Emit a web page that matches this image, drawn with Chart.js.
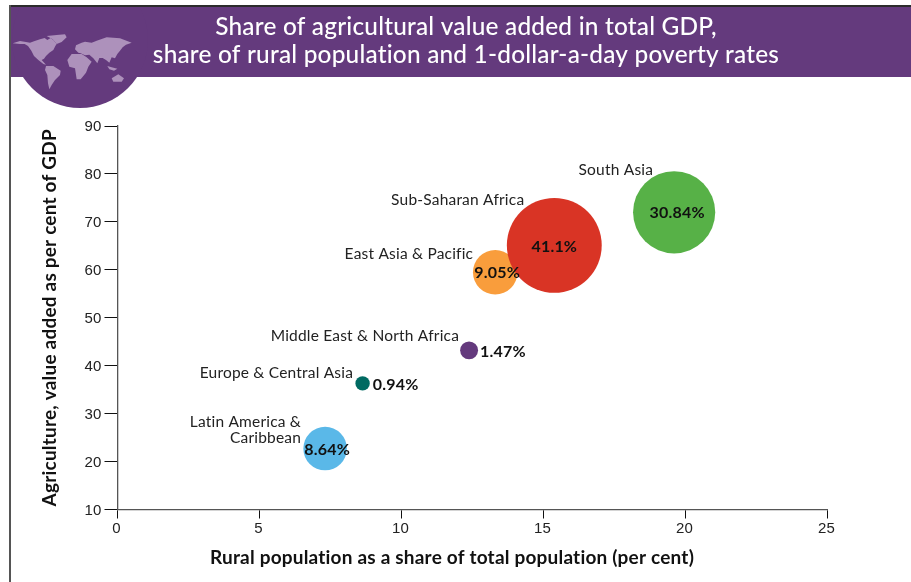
<!DOCTYPE html>
<html>
<head>
<meta charset="utf-8">
<style>html,body{margin:0;padding:0;background:#fff;overflow:hidden}canvas{display:block}</style>
<script src="https://cdn.jsdelivr.net/npm/chart.js@4"></script>
</head>
<body>
<canvas id="c" width="911" height="582"></canvas>
<script>
const regions = ["Latin America &\nCaribbean", "Europe & Central Asia", "Middle East & North Africa", "East Asia & Pacific", "Sub-Saharan Africa", "South Asia"];
const ruralShare = [7.31, 8.63, 12.38, 13.3, 15.38, 19.6];
const agriShare = [22.7, 36.3, 43.2, 59.5, 65.1, 72];
const povertyRate = [8.64, 0.94, 1.47, 9.05, 41.1, 30.84];
const povertyLabels = ["8.64%", "0.94%", "1.47%", "9.05%", "41.1%", "30.84%"];
const colors = ["#5ab8e8", "#006a62", "#643a7d", "#f99d3c", "#d93425", "#57b147"];
const titleLines = ["Share of agricultural value added in total GDP,", "share of rural population and 1-dollar-a-day poverty rates"];
const xTicks = [0, 5, 10, 15, 20, 25];
const yTicks = [10, 20, 30, 40, 50, 60, 70, 80, 90];

const FONT = "Lato, 'Open Sans', sans-serif";
const PURPLE = "#643a7d";
const nameOffsets = [[-24, -27], [-9.5, -10], [-10, -14], [-22, -18], [-30, -45], [-21, -42]];
const pctOffsets = [2, 0, -1, 2, 0, 3];
const mapShapes = [
 [[8,40],[30,33],[48,36],[60,38],[72,34],[90,28],[104,24],[112,30],[122,24],[130,30],[140,42],[136,48],[130,60],[118,68],[108,78],[102,86],[95,90],[108,104],[100,102],[85,90],[72,78],[64,62],[54,48],[44,42],[30,42]],
 [[110,18],[140,15],[165,13],[170,22],[155,36],[140,42],[128,28]],
 [[108,108],[130,108],[152,122],[150,135],[135,150],[125,165],[118,178],[114,160],[112,135],[105,120]],
 [[195,58],[198,46],[215,38],[225,35],[245,38],[260,32],[290,22],[330,25],[365,38],[348,44],[338,52],[330,62],[322,72],[315,85],[305,82],[298,98],[288,90],[278,84],[268,84],[262,100],[250,85],[238,74],[225,76],[212,70],[205,68]],
 [[172,90],[185,72],[215,72],[230,82],[245,95],[235,110],[228,128],[212,148],[200,148],[195,115],[178,110]],
 [[305,145],[325,133],[342,145],[335,155],[310,155]],
 [[292,108],[305,112],[322,116],[312,122],[298,118]]
];

const decor = {
  id: "decor",
  afterLayout(chart) {
    chart.titleBlock.left = 21;
    chart.titleBlock.right = 911;
  },
  beforeDraw(chart) {
    const g = chart.ctx;
    g.save();
    g.fillStyle = "#fff"; g.fillRect(0, 0, 911, 582);
    g.fillStyle = PURPLE;
    g.fillRect(10, 6, 901, 71);
    g.beginPath(); g.rect(0, 6, 911, 120); g.clip();
    g.beginPath(); g.arc(80, 40, 68, 0, Math.PI * 2); g.fill();
    g.fillStyle = "#ad91bb";
    mapShapes.forEach(s => {
      g.beginPath();
      s.forEach((p, i) => { const x = 10 + p[0] / 3, y = 30 + p[1] / 3; i ? g.lineTo(x, y) : g.moveTo(x, y); });
      g.closePath(); g.fill();
    });
    g.restore();
    g.fillStyle = "#2c2c2c"; g.fillRect(9, 5, 902, 2);
    g.fillStyle = "#555"; g.fillRect(9, 5, 2, 577);
    g.letterSpacing = "0.2px";
  }
};

const annotate = {
  id: "annotate",
  afterDatasetsDraw(chart) {
    const g = chart.ctx;
    const pts = chart.getDatasetMeta(0).data;
    g.save();
    g.textBaseline = "middle";
    pts.forEach((pt, i) => {
      g.fillStyle = "#222";
      g.font = "15.5px " + FONT;
      g.textAlign = "right";
      regions[i].split("\n").forEach((ln, k) => {
        g.fillText(ln, pt.x + nameOffsets[i][0], pt.y + nameOffsets[i][1] + k * 16);
      });
      g.fillStyle = "#111";
      g.font = "bold 16px " + FONT;
      const small = pt.options.radius < 12;
      g.textAlign = small ? "left" : "center";
      g.fillText(povertyLabels[i], (small ? pt.x + pt.options.radius + 3 : pt.x) + pctOffsets[i], pt.y + 1);
    });
    const t = chart.options.scales.x.title;
    g.fillStyle = "#111";
    g.font = "bold 19px " + FONT;
    g.textAlign = "center";
    g.fillText(t.text, 452, 558);
    g.restore();
  }
};

new Chart(document.getElementById("c"), {
  type: "bubble",
  data: {
    datasets: [{
      label: "Poverty rate",
      data: ruralShare.map((x, i) => ({ x, y: agriShare[i], v: povertyRate[i] })),
      backgroundColor: colors,
      borderWidth: 0,
      hoverBorderWidth: 0,
      radius: c => Math.sqrt(c.raw.v) * 7.4,
      clip: false
    }]
  },
  plugins: [decor, annotate],
  options: {
    responsive: false,
    animation: false,
    layout: { padding: { left: 22, right: 83.5, top: 0, bottom: 0 } },
    plugins: {
      legend: { display: false },
      tooltip: { enabled: false },
      title: {
        display: true,
        text: titleLines,
        color: "#fff",
        font: { family: FONT, size: 24.4, weight: "500", lineHeight: 28 / 24.4 },
        padding: { top: 13, bottom: 57 }
      }
    },
    scales: {
      x: {
        type: "linear", min: 0, max: 25,
        afterBuildTicks: s => { s.ticks = xTicks.map(value => ({ value })); },
        afterFit: s => { s.height = 72.5; },
        grid: { drawOnChartArea: false, tickLength: 9, tickColor: "#111", tickWidth: 1 },
        border: { color: "#555", width: 1.3 },
        ticks: { color: "#222", font: { family: "'Liberation Sans', Arial", size: 15 }, padding: 1, maxRotation: 0, autoSkip: false, labelOffset: -1 },
        title: { display: false, text: "Rural population as a share of total population (per cent)" }
      },
      y: {
        type: "linear", min: 10, max: 90,
        afterBuildTicks: s => { s.ticks = yTicks.map(value => ({ value })); },
        afterFit: s => { s.width = 95.5; },
        grid: { drawOnChartArea: false, tickLength: 13, tickColor: "#111", tickWidth: 1 },
        border: { color: "#555", width: 1.3 },
        ticks: { color: "#222", font: { family: "'Liberation Sans', Arial", size: 15 }, padding: 3, labelOffset: 1, autoSkip: false },
        title: {
          display: true,
          text: "Agriculture, value added as per cent of GDP",
          color: "#111",
          font: { family: FONT, size: 19, weight: "bold", lineHeight: 20 / 19 },
          padding: { top: 18, bottom: 0 }
        }
      }
    }
  }
});
</script>
</body>
</html>
